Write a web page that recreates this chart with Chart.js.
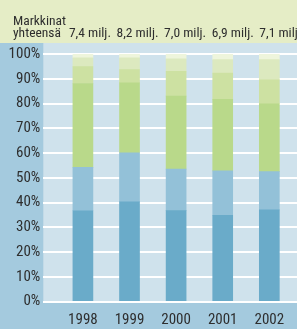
<!DOCTYPE html>
<html>
<head>
<meta charset="utf-8">
<script src="https://cdn.jsdelivr.net/npm/chart.js@4"></script>
<style>
  html, body { margin: 0; padding: 0; background: #e5edc6; }
  #wrap { width: 297px; height: 329px; position: relative; }
</style>
</head>
<body>
<div id="wrap"><canvas id="chart" width="297" height="329"></canvas></div>
<script>
// --- DATA ---
const years = ["1998", "1999", "2000", "2001", "2002"];
const totals = ["7,4 milj.", "8,2 milj.", "7,0 milj.", "6,9 milj.", "7,1 milj."];
const yTicks = [0, 10, 20, 30, 40, 50, 60, 70, 80, 90, 100];

// segment shares (%), bottom to top
const seg1 = [36.7, 40.3, 36.8, 34.9, 37.1];
const seg2 = [17.5, 19.8, 16.7, 17.9, 15.4];
const seg3 = [33.9, 28.3, 29.5, 28.9, 27.4];
const seg4 = [6.8, 5.3, 10.0, 10.6, 9.7];
const seg5 = [3.6, 4.8, 5.0, 5.4, 8.1];
const seg6 = [1.5, 1.5, 2.0, 2.3, 2.3];

const segColors = ["#6aabc9", "#93c1d8", "#b9d98a", "#cde1a2", "#dce9bf", "#eef5dc"];
const FONT = "'Roboto Condensed', 'DejaVu Sans Condensed', sans-serif";

const series = [seg1, seg2, seg3, seg4, seg5, seg6];

// --- PLUGINS ---
const backdrop = {
    id: "backdrop",
    beforeDraw(chart) {
        const { ctx, chartArea: a, width, height } = chart;
        ctx.save();
        ctx.fillStyle = "#e5edc6";           // header
        ctx.fillRect(0, 0, width, height);
        ctx.fillStyle = "#a4cade";           // left + bottom strip
        ctx.fillRect(0, 43, width, height - 43);
        ctx.fillStyle = "#cfe2ec";           // plot area
        ctx.fillRect(a.left, 43, a.right - a.left, a.bottom - 43);
        ctx.restore();
    }
};

const header = {
    id: "header",
    afterDraw(chart) {
        const { ctx } = chart;
        const x = chart.scales.x;
        ctx.save();
        ctx.fillStyle = "#2e2e2e";
        ctx.font = "13.5px " + FONT;
        ctx.textBaseline = "alphabetic";
        ctx.textAlign = "left";
        ctx.fillText("Markkinat", 13, 25);
        ctx.fillText("yhteensä", 13, 37);
        // totals sit just left of each bar column
        totals.forEach((t, i) => {
            ctx.fillText(t, x.getPixelForValue(i) - 14 + i, 37);
        });
        ctx.restore();
    }
};

// --- CHART ---
const ctx = document.getElementById("chart").getContext("2d");
new Chart(ctx, {
    type: "bar",
    data: {
        datasets: series.map((s, k) => ({
            data: s.map((v, i) => ({ x: i, y: v })),
            backgroundColor: segColors[k],
            borderWidth: 0,
            barThickness: 20
        }))
    },
    options: {
        responsive: false,
        animation: false,
        layout: { padding: { top: 54, left: 0, right: 0, bottom: 0 } },
        plugins: { legend: { display: false }, tooltip: { enabled: false } },
        scales: {
            x: {
                type: "linear",
                stacked: true,
                offset: false,
                min: -0.85,
                max: 4.594,
                afterFit: s => { s.height = 27.3; },
                grid: { display: false },
                border: { display: false },
                ticks: {
                    stepSize: 1,
                    includeBounds: false,
                    padding: 2,
                    color: "#2e2e2e",
                    font: { family: FONT, size: 15 },
                    callback: v => years[v] || ""
                }
            },
            y: {
                stacked: true,
                min: 0,
                max: 100,
                afterFit: s => { s.width = 43.3; },
                afterBuildTicks: s => { s.ticks = yTicks.map(v => ({ value: v })); },
                grid: { color: "#ffffff", lineWidth: 2, drawTicks: false },
                border: { display: false },
                ticks: {
                    padding: 3,
                    color: "#2e2e2e",
                    font: { family: FONT, size: 15 },
                    callback: v => v + "%"
                }
            }
        }
    },
    plugins: [backdrop, header]
});
</script>
</body>
</html>
